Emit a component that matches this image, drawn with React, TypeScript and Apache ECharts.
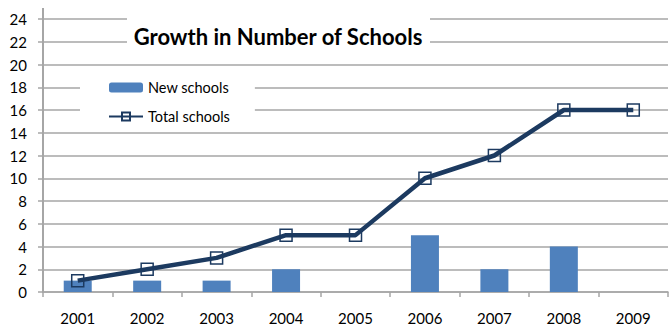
import React, { useEffect, useRef } from "react";
import * as echarts from "echarts";

const years = ["2001", "2002", "2003", "2004", "2005", "2006", "2007", "2008", "2009"];
const newSchools = [1, 1, 1, 2, 0, 5, 2, 4, 0];
const totalSchools = [1, 2, 3, 5, 5, 10, 12, 16, 16];
const titleText = "Growth in Number of Schools";

const FONT = "Lato, 'Noto Sans', sans-serif";
const GRAY = "#a6a6a6";
const NAVY = "#1c3a60";
const BLUE = "#4f81bd";

export default function App() {
  const ref = useRef<HTMLDivElement>(null);
  useEffect(() => {
    if (!ref.current) return;
    const chart = echarts.init(ref.current, undefined, { renderer: "svg" });
    chart.setOption({
      animation: false,
      backgroundColor: "#fff",
      textStyle: { fontFamily: FONT },
      grid: { left: 43, right: 3, top: 19, bottom: 36 },
      xAxis: {
        type: "category",
        data: years,
        boundaryGap: true,
        axisLine: { show: true, lineStyle: { color: GRAY, width: 1.5 } },
        axisTick: { show: true, length: 5, lineStyle: { color: GRAY, width: 1.5 } },
        axisLabel: { margin: 18, color: "#000", fontSize: 15, fontFamily: FONT },
      },
      yAxis: {
        type: "value",
        min: 0,
        max: 24,
        interval: 2,
        axisLine: { show: true, lineStyle: { color: GRAY, width: 2 } },
        axisTick: { show: true, length: 5, lineStyle: { color: GRAY, width: 1.5 } },
        axisLabel: { margin: 16, color: "#000", fontSize: 15, fontFamily: FONT },
        splitLine: { show: true, lineStyle: { color: GRAY, width: 1.5 } },
      },
      legend: {
        orient: "vertical",
        left: 80,
        top: 70,
        padding: [10, 25, 8, 28],
        backgroundColor: "#fff",
        itemWidth: 34,
        itemHeight: 10,
        itemGap: 14,
        itemTextGap: 4,
        textStyle: { fontSize: 14.5, color: "#000", fontFamily: FONT, lineHeight: 14 },
        data: ["New schools", "Total schools"],
      },
      graphic: [
        {
          type: "line",
          shape: { x1: 43, y1: 8, x2: 43, y2: 19 },
          style: { stroke: GRAY, lineWidth: 2 },
          z: 5,
        },
        {
          type: "rect",
          shape: { x: 127, y: 12, width: 303, height: 43 },
          style: { fill: "#fff" },
          z: 20,
        },
        {
          type: "text",
          x: 278,
          y: 36,
          style: {
            text: titleText,
            fontFamily: FONT,
            fontWeight: "bold",
            fontSize: 22,
            fill: "#000",
            align: "center",
            verticalAlign: "middle",
          },
          z: 21,
        },
      ],
      series: [
        {
          name: "New schools",
          type: "bar",
          data: newSchools,
          barWidth: 28,
          itemStyle: { color: BLUE },
        },
        {
          name: "Total schools",
          type: "line",
          data: totalSchools,
          symbol: "rect",
          symbolSize: 12,
          lineStyle: { color: NAVY, width: 4.5 },
          itemStyle: { color: "transparent", borderColor: NAVY, borderWidth: 1.5 },
          z: 3,
        },
      ],
    });
    return () => chart.dispose();
  }, []);
  return <div ref={ref} style={{ width: 671, height: 328, position: "absolute", left: 0, top: 0 }} />;
}
